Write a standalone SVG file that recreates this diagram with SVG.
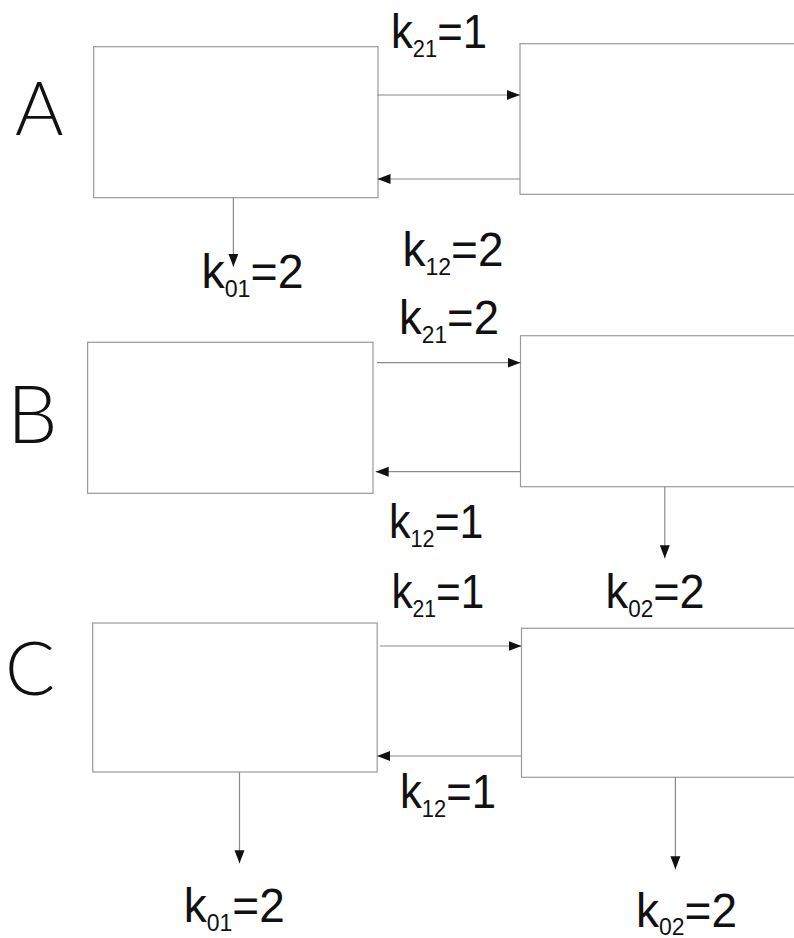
<svg xmlns="http://www.w3.org/2000/svg" width="794" height="938" viewBox="0 0 794 938">
<style>
.box{fill:#fff;stroke:#9a9a9a;stroke-width:1.2}
.con{fill:none;stroke:#8a8a8a;stroke-width:1.2;marker-end:url(#ah)}
.lab{font-family:"Liberation Sans",Arial,sans-serif;font-size:48px;fill:#111}
.sub{font-size:24px}
.big{font-family:Lato,Inter,"Liberation Sans",sans-serif;font-weight:300;fill:#111}
</style>
<defs>
<marker id="ah" markerUnits="userSpaceOnUse" markerWidth="14" markerHeight="11" refX="13" refY="5" orient="auto" viewBox="0 0 14 10">
<path d="M0,0 L13,5 L0,10 z" fill="#111"/>
</marker>
</defs>
<rect width="794" height="938" fill="#fff"/>
<g id="panel-labels">
<text class="big" x="15" y="135" font-size="74">A</text>
<text class="big" x="7" y="443" font-size="80">B</text>
<text class="big" x="5" y="695" font-size="74">C</text>
</g>
<g id="A1"><rect class="box" x="93.7" y="46.7" width="284.3" height="151"/></g>
<g id="A2"><rect class="box" x="520" y="43.7" width="300" height="150.6"/></g>
<g id="B1"><rect class="box" x="87.6" y="342.3" width="285.4" height="151"/></g>
<g id="B2"><rect class="box" x="520.5" y="335.7" width="300" height="151"/></g>
<g id="C1"><rect class="box" x="92.7" y="623" width="284.5" height="149"/></g>
<g id="C2"><rect class="box" x="521.5" y="628.3" width="300" height="149"/></g>
<g id="connectors">
<path class="con" d="M377,95 H520"/>
<path class="con" d="M520,179 H377.5"/>
<path class="con" d="M233.4,197.7 V266.7"/>
<path class="con" d="M377,362.7 H520.5"/>
<path class="con" d="M520.5,471.7 H375.7"/>
<path class="con" d="M664.8,486.7 V558.3"/>
<path class="con" d="M379.7,646 H521.5"/>
<path class="con" d="M521.5,756 H377.2"/>
<path class="con" d="M239.5,772 V863.3"/>
<path class="con" d="M675.4,777.3 V869.3"/>
</g>
<g id="rate-labels">
<text class="lab" x="391" y="48.3" textLength="96" lengthAdjust="spacingAndGlyphs">k<tspan class="sub" dy="9">21</tspan><tspan dy="-9">=1</tspan></text>
<text class="lab" x="201.5" y="288.3" textLength="102" lengthAdjust="spacingAndGlyphs">k<tspan class="sub" dy="9">01</tspan><tspan dy="-9">=2</tspan></text>
<text class="lab" x="402.5" y="265.7" textLength="101" lengthAdjust="spacingAndGlyphs">k<tspan class="sub" dy="9">12</tspan><tspan dy="-9">=2</tspan></text>
<text class="lab" x="399" y="334.3" textLength="100" lengthAdjust="spacingAndGlyphs">k<tspan class="sub" dy="9">21</tspan><tspan dy="-9">=2</tspan></text>
<text class="lab" x="389" y="538.3" textLength="94.5" lengthAdjust="spacingAndGlyphs">k<tspan class="sub" dy="9">12</tspan><tspan dy="-9">=1</tspan></text>
<text class="lab" x="605.6" y="607.5" textLength="99" lengthAdjust="spacingAndGlyphs">k<tspan class="sub" dy="9">02</tspan><tspan dy="-9">=2</tspan></text>
<text class="lab" x="391.4" y="607.5" textLength="93" lengthAdjust="spacingAndGlyphs">k<tspan class="sub" dy="9">21</tspan><tspan dy="-9">=1</tspan></text>
<text class="lab" x="400" y="808.3" textLength="96" lengthAdjust="spacingAndGlyphs">k<tspan class="sub" dy="9">12</tspan><tspan dy="-9">=1</tspan></text>
<text class="lab" x="183.8" y="921.7" textLength="101" lengthAdjust="spacingAndGlyphs">k<tspan class="sub" dy="9">01</tspan><tspan dy="-9">=2</tspan></text>
<text class="lab" x="636" y="926.5" textLength="101" lengthAdjust="spacingAndGlyphs">k<tspan class="sub" dy="8">02</tspan><tspan dy="-8">=2</tspan></text>
</g>
</svg>
